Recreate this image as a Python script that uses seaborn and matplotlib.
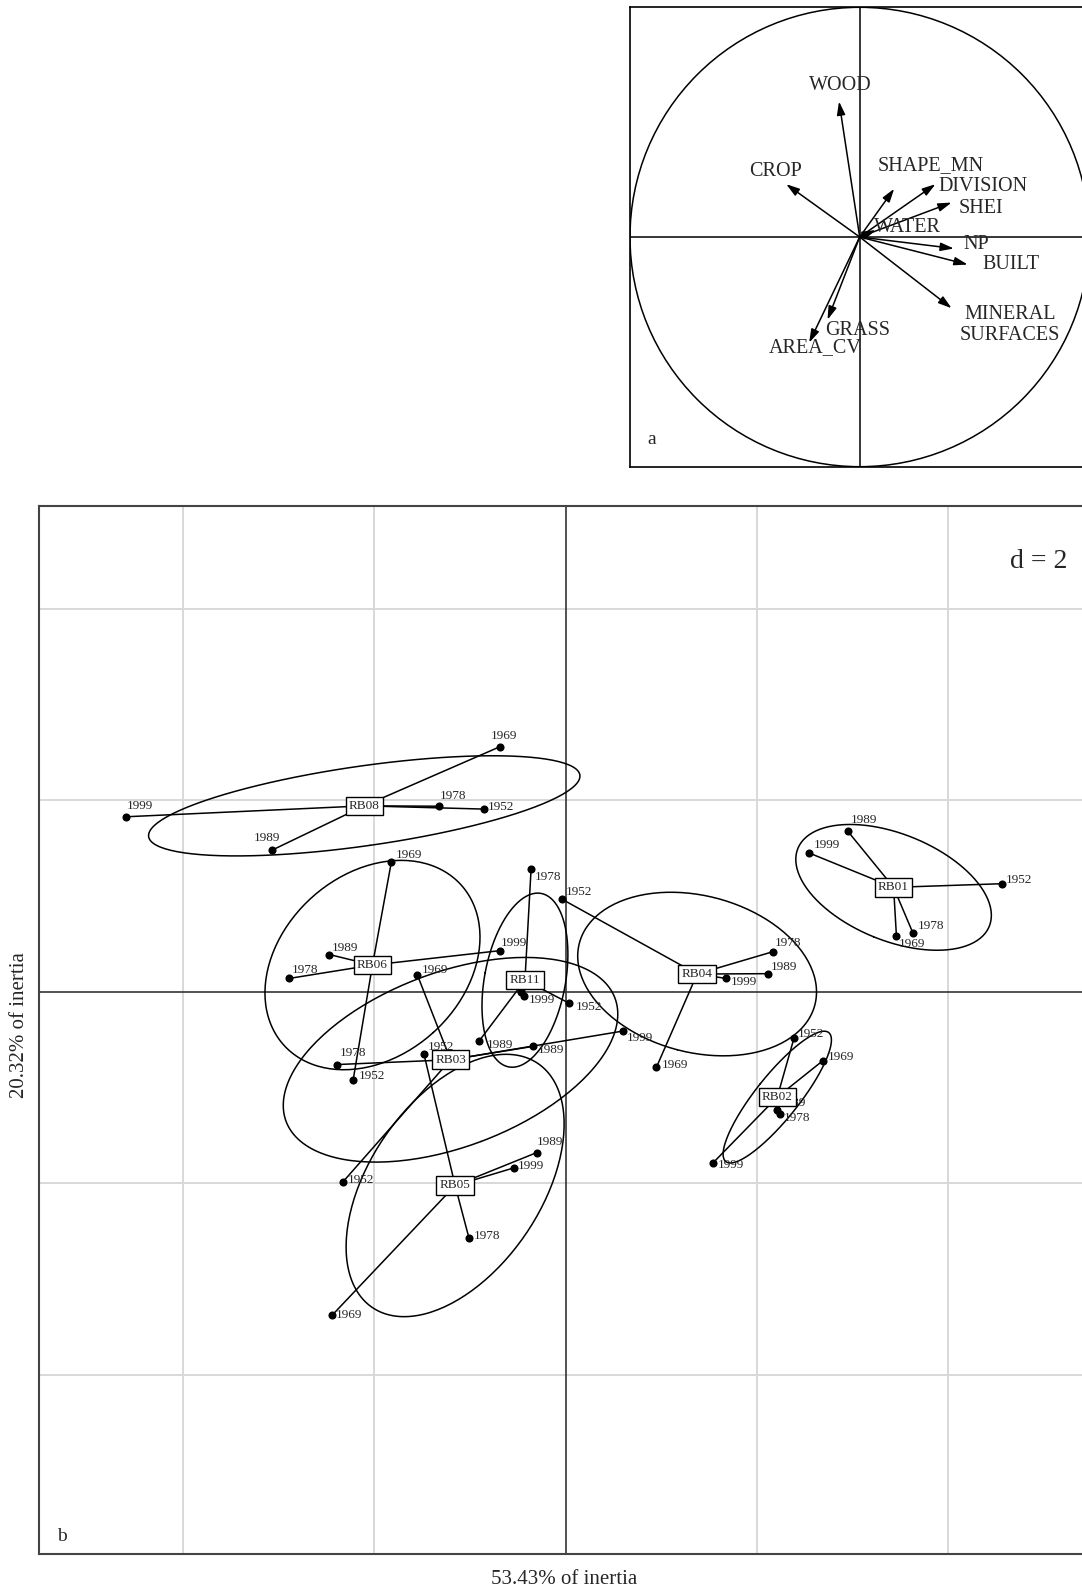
import numpy as np
import pandas as pd
import matplotlib
matplotlib.use('Agg')
import matplotlib.pyplot as plt
from matplotlib.patches import Circle
import seaborn as sns

# ---- data ----------------------------------------------------------------
sites = ['RB01', 'RB02', 'RB03', 'RB04', 'RB05', 'RB06', 'RB08', 'RB11']
years = ['1952', '1969', '1978', '1989', '1999']

# scores on axis 1 (53.43%) and axis 2 (20.32%), one per year
axis1 = {
    'RB01': [4.56, 3.46, 3.63, 2.95, 2.55],
    'RB02': [2.39, 2.69, 2.24, 2.21, 1.54],
    'RB03': [-2.33, -1.55, -2.39, -0.34, 0.60],
    'RB04': [-0.04, 0.95, 2.17, 2.12, 1.68],
    'RB05': [-1.48, -2.44, -1.01, -0.30, -0.54],
    'RB06': [-2.22, -1.82, -2.89, -2.47, -0.69],
    'RB08': [-0.85, -0.69, -1.32, -3.07, -4.59],
    'RB11': [0.04, -0.47, -0.36, -0.90, -0.43],
}
axis2 = {
    'RB01': [1.13, 0.58, 0.62, 1.68, 1.45],
    'RB02': [-0.48, -0.72, -1.28, -1.23, -1.79],
    'RB03': [-1.99, 0.18, -0.76, -0.57, -0.41],
    'RB04': [0.97, -0.79, 0.42, 0.19, 0.14],
    'RB05': [-0.65, -3.38, -2.57, -1.68, -1.84],
    'RB06': [-0.92, 1.36, 0.14, 0.39, 0.43],
    'RB08': [1.91, 2.56, 1.94, 1.48, 1.83],
    'RB11': [-0.12, 0.00, 1.28, -0.51, -0.04],
}

# correlation circle
variables = ['WOOD', 'CROP', 'SHAPE_MN', 'DIVISION', 'SHEI', 'WATER', 'NP',
             'BUILT', 'MINERAL\nSURFACES', 'GRASS', 'AREA_CV']
corr1 = [-0.09, -0.32, 0.15, 0.33, 0.40, 0.07, 0.41, 0.47, 0.40, -0.14, -0.22]
corr2 = [0.59, 0.23, 0.21, 0.23, 0.15, 0.03, -0.05, -0.12, -0.31, -0.36, -0.46]

xlab = '53.43% of inertia'
ylab = '20.32% of inertia'
d = 2

# label placement (layout only)
var_lab_pos = [(-0.084, 0.66), (-0.368, 0.283), (0.308, 0.3125), (0.538, 0.221),
               (0.529, 0.124), (0.206, 0.042), (0.509, -0.031), (0.66, -0.121),
               (0.654, -0.382), (-0.009, -0.408), (-0.193, -0.481)]
# pixel offsets of the year labels, in the order of `years`
year_off = {
    'RB01': [(4, 4), (2, -8), (5, 7), (3, 11), (4, 8)],
    'RB02': [(4, 4), (5, 4), (4, -4), (3, 7), (5, -2)],
    'RB03': [(5, 2), (5, 5), (3, 12), (5, -4), (4, -7)],
    'RB04': [(4, 7), (5, 2), (2, 9), (3, 7), (5, -4)],
    'RB05': [(4, 7), (4, 0), (5, 2), (0, 11), (4, 2)],
    'RB06': [(6, 4), (4, 7), (3, 8), (3, 7), (1, 8)],
    'RB08': [(4, 2), (-9, 11), (1, 10), (-18, 12), (0, 11)],
    'RB11': [(6, -4), (-4, 9), (4, -8), (7, -4), (4, -4)],
}

sns.set_style('white')
plt.rcParams['font.family'] = ['Liberation Serif', 'DejaVu Serif']

W, H = 1082, 1590
fig = plt.figure(figsize=(W / 100, H / 100), dpi=100)

# ---- panel b : classes ---------------------------------------------------
ax = fig.add_axes([39 / W, 1 - 1554 / H, 1050 / W, 1048 / H])

rows = []
for s in sites:
    for i, yr in enumerate(years):
        rows.append({'site': s, 'year': yr, 'f1': axis1[s][i], 'f2': axis2[s][i]})
df = pd.DataFrame(rows)

for lim in np.arange(-2 * d, 2 * d + 1, d):
    if lim == 0:
        continue
    ax.axvline(lim, color='#d8d8d8', lw=1.4, zorder=0)
    ax.axhline(lim, color='#d8d8d8', lw=1.4, zorder=0)
ax.axvline(0, color='#333333', lw=1.2, zorder=1)
ax.axhline(0, color='#333333', lw=1.2, zorder=1)

t = np.linspace(0, 2 * np.pi, 200)
for s in sites:
    pts = df.loc[df.site == s, ['f1', 'f2']].to_numpy()
    m = pts.mean(axis=0)
    cov = (pts - m).T @ (pts - m) / len(pts)
    w, v = np.linalg.eigh(cov)
    ell = m[:, None] + 1.5 * v @ (np.sqrt(np.clip(w, 0, None))[:, None] * np.vstack([np.cos(t), np.sin(t)]))
    ax.plot(ell[0], ell[1], color='black', lw=1.1, zorder=2)
    for p in pts:
        ax.plot([m[0], p[0]], [m[1], p[1]], color='black', lw=1.1, zorder=2)

sns.scatterplot(data=df, x='f1', y='f2', color='black', s=34, linewidth=0,
                ax=ax, legend=False, zorder=3)

for _, r in df.iterrows():
    off = year_off[r.site][years.index(r.year)]
    ax.annotate(r.year, (r.f1, r.f2), xytext=off, textcoords='offset pixels',
                ha='left', va='center', fontsize=9.5, zorder=4)

for s in sites:
    cx, cy = np.mean(axis1[s]), np.mean(axis2[s])
    ax.text(cx, cy, s, ha='center', va='center', fontsize=9.5, zorder=5,
            bbox=dict(boxstyle='square,pad=0.25', fc='white', ec='black', lw=1.0))

ax.set_xlim((39 - 565.5) / 95.65, (1089 - 565.5) / 95.65)
ax.set_ylim((992 - 1554) / 95.65, (992 - 506.3) / 95.65)
ax.set_xticks([])
ax.set_yticks([])
ax.set_xlabel('')
ax.set_ylabel('')
for sp in ax.spines.values():
    sp.set_color('#444444')
    sp.set_linewidth(1.5)
ax.text(0.979, 0.947, 'd = 2', transform=ax.transAxes, ha='right', va='center', fontsize=20)
ax.text(0.017, 0.017, 'b', transform=ax.transAxes, ha='left', va='center', fontsize=14)

fig.text(564 / W, 1 - 1580 / H, xlab, ha='center', va='center', fontsize=15)
fig.text(20 / W, 1 - 1025 / H, ylab, ha='center', va='center', fontsize=15, rotation=90)

# ---- panel a : correlation circle ----------------------------------------
axa = fig.add_axes([630 / W, 1 - 466.7 / H, 459.4 / W, 459.4 / H])
axa.add_patch(Circle((0, 0), 1, fill=False, ec='black', lw=1.1))
axa.axhline(0, color='black', lw=1.1)
axa.axvline(0, color='black', lw=1.1)
for name, a1, a2, (lx, ly) in zip(variables, corr1, corr2, var_lab_pos):
    axa.annotate('', xy=(a1, a2), xytext=(0, 0),
                 arrowprops=dict(arrowstyle='-|>,head_length=0.8,head_width=0.25',
                                 color='black', lw=1.1, shrinkA=0, shrinkB=0))
    axa.text(lx, ly, name, ha='center', va='center', fontsize=14.5, linespacing=1.15)
axa.text(-0.905, -0.88, 'a', ha='center', va='center', fontsize=14)
axa.set_xlim(-1, 1)
axa.set_ylim(-1, 1)
axa.set_xticks([])
axa.set_yticks([])
for sp in axa.spines.values():
    sp.set_color('black')
    sp.set_linewidth(1.2)

fig.savefig('out.png', dpi=100)
